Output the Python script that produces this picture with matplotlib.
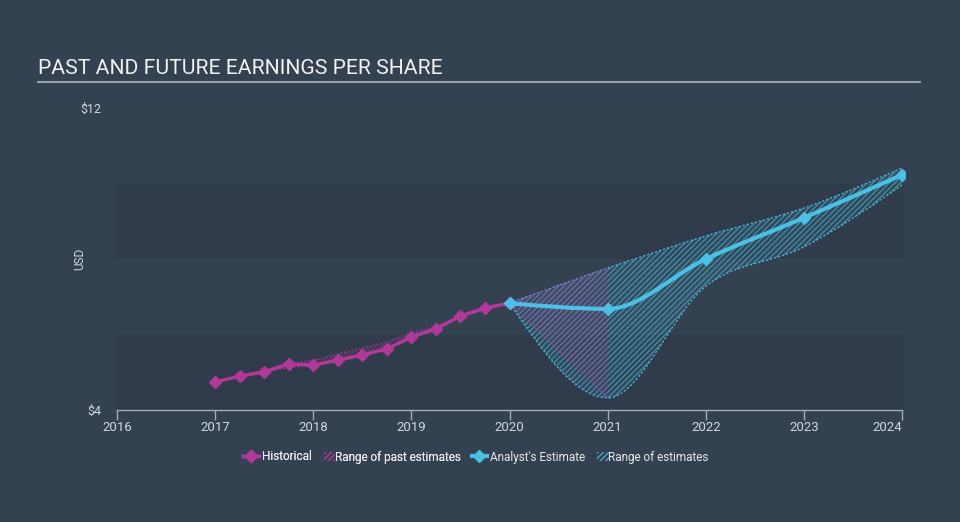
import matplotlib
matplotlib.use("Agg")
import matplotlib.pyplot as plt
from matplotlib.path import Path
from matplotlib.patches import PathPatch, Patch
from matplotlib.lines import Line2D
import numpy as np

plt.rcParams['font.family'] = ['Roboto', 'DejaVu Sans']
plt.rcParams['hatch.linewidth'] = 0.8

# historical EPS (quarterly)
hist_years = [2017, 2017.25, 2017.5, 2017.75, 2018, 2018.25, 2018.5, 2018.75,
              2019, 2019.25, 2019.5, 2019.75, 2020]
hist_eps = [4.74, 4.90, 5.01, 5.22, 5.19, 5.32, 5.46, 5.62,
            5.93, 6.15, 6.49, 6.70, 6.83]

# range of past estimates
past_years = [2017.5, 2017.75, 2018, 2018.25, 2018.5, 2018.75, 2019, 2019.25, 2019.5, 2020, 2021]
past_low = [5.01, 5.12, 5.19, 5.32, 5.46, 5.62, 5.93, 6.15, 6.49, 6.83, 4.32]
past_high = [5.01, 5.22, 5.32, 5.48, 5.64, 5.80, 6.04, 6.20, 6.49, 6.83, 7.76]

# analyst estimates
est_years = [2020, 2021, 2022, 2023, 2024]
est_eps = [6.83, 6.68, 8.00, 9.09, 10.23]
est_low = [6.83, 4.32, 7.28, 8.32, 9.96]
est_high = [6.83, 7.76, 8.61, 9.35, 10.41]

x_ticks = [2016, 2017, 2018, 2019, 2020, 2021, 2022, 2023, 2024]

BG = '#344150'
BAND = '#303c4b'
MAGENTA = '#b2389a'
CYAN = '#4cc0e4'
TXT = '#d2d6dc'


def monotone_verts(xs, ys):
    # d3 curveMonotoneX as cubic bezier segments
    xs = np.asarray(xs, float)
    ys = np.asarray(ys, float)
    n = len(xs)
    h = np.diff(xs)
    s = np.diff(ys) / h
    t = np.zeros(n)
    for i in range(1, n - 1):
        p = (s[i - 1] * h[i] + s[i] * h[i - 1]) / (h[i - 1] + h[i])
        t[i] = (np.sign(s[i - 1]) + np.sign(s[i])) * min(abs(s[i - 1]), abs(s[i]), 0.5 * abs(p))
    t[0] = (3 * s[0] - t[1]) / 2 if n > 2 else s[0]
    t[-1] = (3 * s[-1] - t[-2]) / 2 if n > 2 else s[-1]
    verts = [(xs[0], ys[0])]
    for i in range(n - 1):
        dx = h[i] / 3
        verts += [(xs[i] + dx, ys[i] + dx * t[i]),
                  (xs[i + 1] - dx, ys[i + 1] - dx * t[i + 1]),
                  (xs[i + 1], ys[i + 1])]
    return verts


def curve_path(xs, ys):
    v = monotone_verts(xs, ys)
    codes = [Path.MOVETO] + [Path.CURVE4] * (len(v) - 1)
    return Path(v, codes)


def band_path(xs, lo, hi):
    up = monotone_verts(xs, hi)
    dn = monotone_verts(xs, lo)[::-1]
    verts = up + dn + [up[0]]
    codes = ([Path.MOVETO] + [Path.CURVE4] * (len(up) - 1) +
             [Path.LINETO] + [Path.CURVE4] * (len(dn) - 1) + [Path.CLOSEPOLY])
    return Path(verts, codes)


fig = plt.figure(figsize=(9.6, 5.22), dpi=100, facecolor=BG)
ax = fig.add_axes([117 / 960, 112 / 522, 788 / 960, 302 / 522])
ax.set_facecolor('none')
ax.set_xlim(2016, 2024.03)
ax.set_ylim(4, 12)

# alternating bands
for lo, hi in [(4, 6), (8, 10)]:
    ax.axhspan(lo, hi, color=BAND, lw=0, zorder=0)

# range of estimates
est_band = band_path(est_years, est_low, est_high)
ax.add_patch(PathPatch(est_band, facecolor=CYAN, alpha=0.10, lw=0, zorder=1))
ax.add_patch(PathPatch(est_band, facecolor='none', edgecolor=CYAN, alpha=0.65,
                       hatch='//////', lw=0, zorder=1))
ax.add_patch(PathPatch(curve_path(est_years, est_high), fill=False, edgecolor=CYAN,
                       lw=1, ls=(0, (1.5, 1.5)), alpha=0.9, zorder=2))
ax.add_patch(PathPatch(curve_path(est_years, est_low), fill=False, edgecolor=CYAN,
                       lw=1, ls=(0, (1.5, 1.5)), alpha=0.9, zorder=2))

# range of past estimates
ax.fill_between(past_years, past_low, past_high, facecolor=MAGENTA, lw=0, alpha=0.07, zorder=2)
ax.fill_between(past_years, past_low, past_high, facecolor='none', edgecolor=MAGENTA,
                hatch='//////', lw=0, alpha=0.4, zorder=2)
ax.plot(past_years, past_high, color=MAGENTA, lw=0.9, ls=(0, (1.5, 1.5)), alpha=0.8, zorder=2)
ax.plot(past_years, past_low, color=MAGENTA, lw=0.9, ls=(0, (1.5, 1.5)), alpha=0.8, zorder=2)

# lines
ax.plot(hist_years, hist_eps, color=MAGENTA, lw=2.5, marker='D', ms=6, zorder=4)
ax.add_patch(PathPatch(curve_path(est_years, est_eps), fill=False, edgecolor=CYAN,
                       lw=3, zorder=5, capstyle='round'))
ax.plot(est_years, est_eps, ls='none', marker='D', ms=6, color=CYAN, zorder=6)

# axes styling
for side in ['top', 'right', 'left']:
    ax.spines[side].set_visible(False)
ax.spines['bottom'].set_color('#a3abb6')
ax.spines['bottom'].set_linewidth(1)
ax.spines['bottom'].set_bounds(2016, 2024)
ax.set_xticks(x_ticks)
ax.set_xticklabels([str(y) for y in x_ticks])
ax.tick_params(axis='x', colors='#a3abb6', length=7, width=1, pad=1,
               labelcolor=TXT, labelsize=9.5)
ax.get_xticklabels()[-1].set_horizontalalignment('right')
ax.set_yticks([4, 12])
ax.set_yticklabels(['$4', '$12'])
ax.tick_params(axis='y', length=0, pad=11, labelcolor=TXT, labelsize=9)
ax.set_ylabel('USD', color=TXT, fontsize=8.5)
ax.yaxis.set_label_coords(-31 / 788, 0.5)

# title
fig.text(38 / 960, 1 - 69 / 522, 'PAST AND FUTURE EARNINGS PER SHARE', color='#f2f2f2',
         fontsize=15.2, va='center', ha='left')
fig.add_artist(Line2D([38 / 960, 920 / 960], [1 - 82 / 522, 1 - 82 / 522],
                      color='#b4b9c0', lw=1.2))

# legends
leg_kw = dict(frameon=False, ncol=2, fontsize=8.5, labelcolor='#e6e8eb',
              handlelength=1.3, handletextpad=0.3, columnspacing=0.3,
              loc='center')
h1 = [Line2D([], [], color=MAGENTA, lw=2.5, marker='D', ms=6),
      Patch(facecolor='none', edgecolor=MAGENTA, hatch='//////', lw=0)]
h2 = [Line2D([], [], color=CYAN, lw=3, marker='D', ms=6),
      Patch(facecolor='none', edgecolor=CYAN, hatch='//////', lw=0)]
l1 = fig.legend(h1, ['Historical', 'Range of past estimates'],
                bbox_to_anchor=(352 / 960, 1 - 457 / 522), **leg_kw)
l2 = fig.legend(h2, ["Analyst's Estimate", 'Range of estimates'],
                bbox_to_anchor=(590 / 960, 1 - 457 / 522), **leg_kw)
for lg in (l1, l2):
    lg.legend_handles[1].set_width(8)
    lg.legend_handles[1].set_x(lg.legend_handles[1].get_x() + 6)
fig.add_artist(l1)

fig.savefig('out.png', dpi=100, facecolor=BG)
